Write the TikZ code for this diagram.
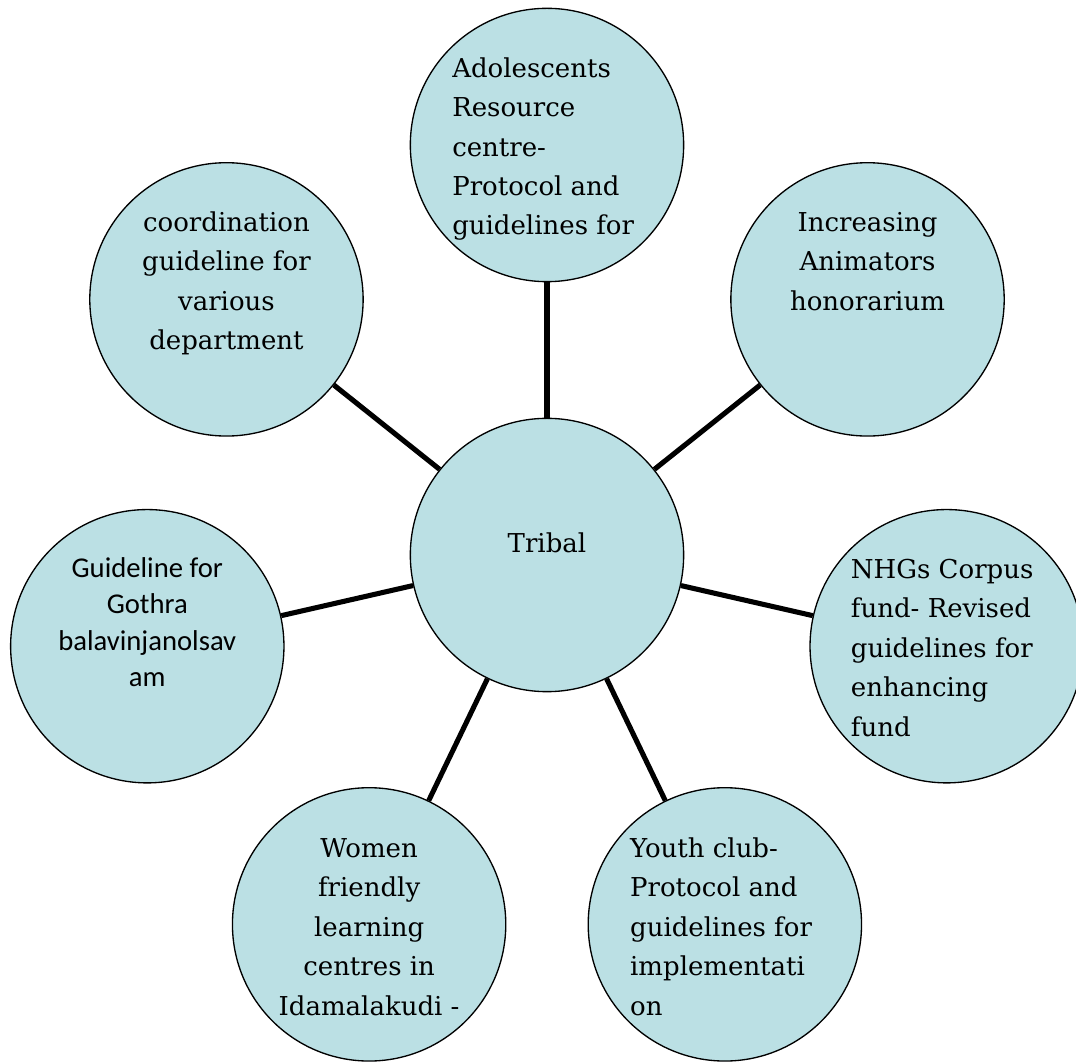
\documentclass[tikz,border=0pt]{standalone}
\usepackage{fontspec}
\usepackage{tikz}
\usetikzlibrary{positioning,calc}

\setmainfont{DejaVu Serif}
\newfontfamily\gothrafont{Carlito}

\definecolor{topicfill}{RGB}{187,224,228}

\tikzset{
    topic/.style={circle, draw=black, line width=1pt, fill=topicfill,
        minimum size=205pt, inner sep=0pt},
    spoke/.style={line width=3.8pt},
    topictext/.style={inner sep=0pt, font=\fontsize{19.5}{29.6}\selectfont},
}

\begin{document}
\begin{tikzpicture}[x=0.75pt, y=0.75pt]
        \useasboundingbox (-547, -508) rectangle (529, 555);
        \clip (-547, -508) rectangle (529, 555);

        \node[topic] (tribal) at (0, 0) {};
        \foreach \i in {0, 1, ..., 6} {
            \node[topic] (c\i) at ({90 - \i*360/7}:410) {};
            \draw[spoke] (tribal) -- (c\i);
        }

        % texts: base is the last line, first line sits 68 above each centre
        \node[topictext, anchor=base] (ttribal) at ($(tribal)+(0, 2)$) {Tribal};
        \node[topictext, align=left, anchor=base west] (t0) at ($(c0)+(-95, 68-4*39.5)$)
            {Adolescents\\Resource\\centre-\\Protocol and\\guidelines for};
        \node[topictext, align=center, anchor=base] (t1) at ($(c1)+(0, 68-2*39.5)$)
            {Increasing\\Animators\\honorarium};
        \node[topictext, align=left, anchor=base west] (t2) at ($(c2)+(-96, 68-4*39.5)$)
            {NHGs Corpus\\fund- Revised\\guidelines for\\enhancing\\fund};
        \node[topictext, align=left, anchor=base west] (t3) at ($(c3)+(-95, 67-4*39.5)$)
            {Youth club-\\Protocol and\\guidelines for\\implementati\\on};
        \node[topictext, align=center, anchor=base] (t4) at ($(c4)+(0, 67-4*39.5)$)
            {Women\\friendly\\learning\\centres in\\Idamalakudi -};
        \node[topictext, align=center, anchor=base, font=\gothrafont\fontsize{21.5}{27.4}\selectfont] (t5) at ($(c5)+(0, 69-3*36.5)$)
            {Guideline for\\Gothra\\balavinjanolsav\\am};
        \node[topictext, align=center, anchor=base] (t6) at ($(c6)+(0, 68-3*39.5)$)
            {coordination\\guideline for\\various\\department};
    \end{tikzpicture}
\end{document}
